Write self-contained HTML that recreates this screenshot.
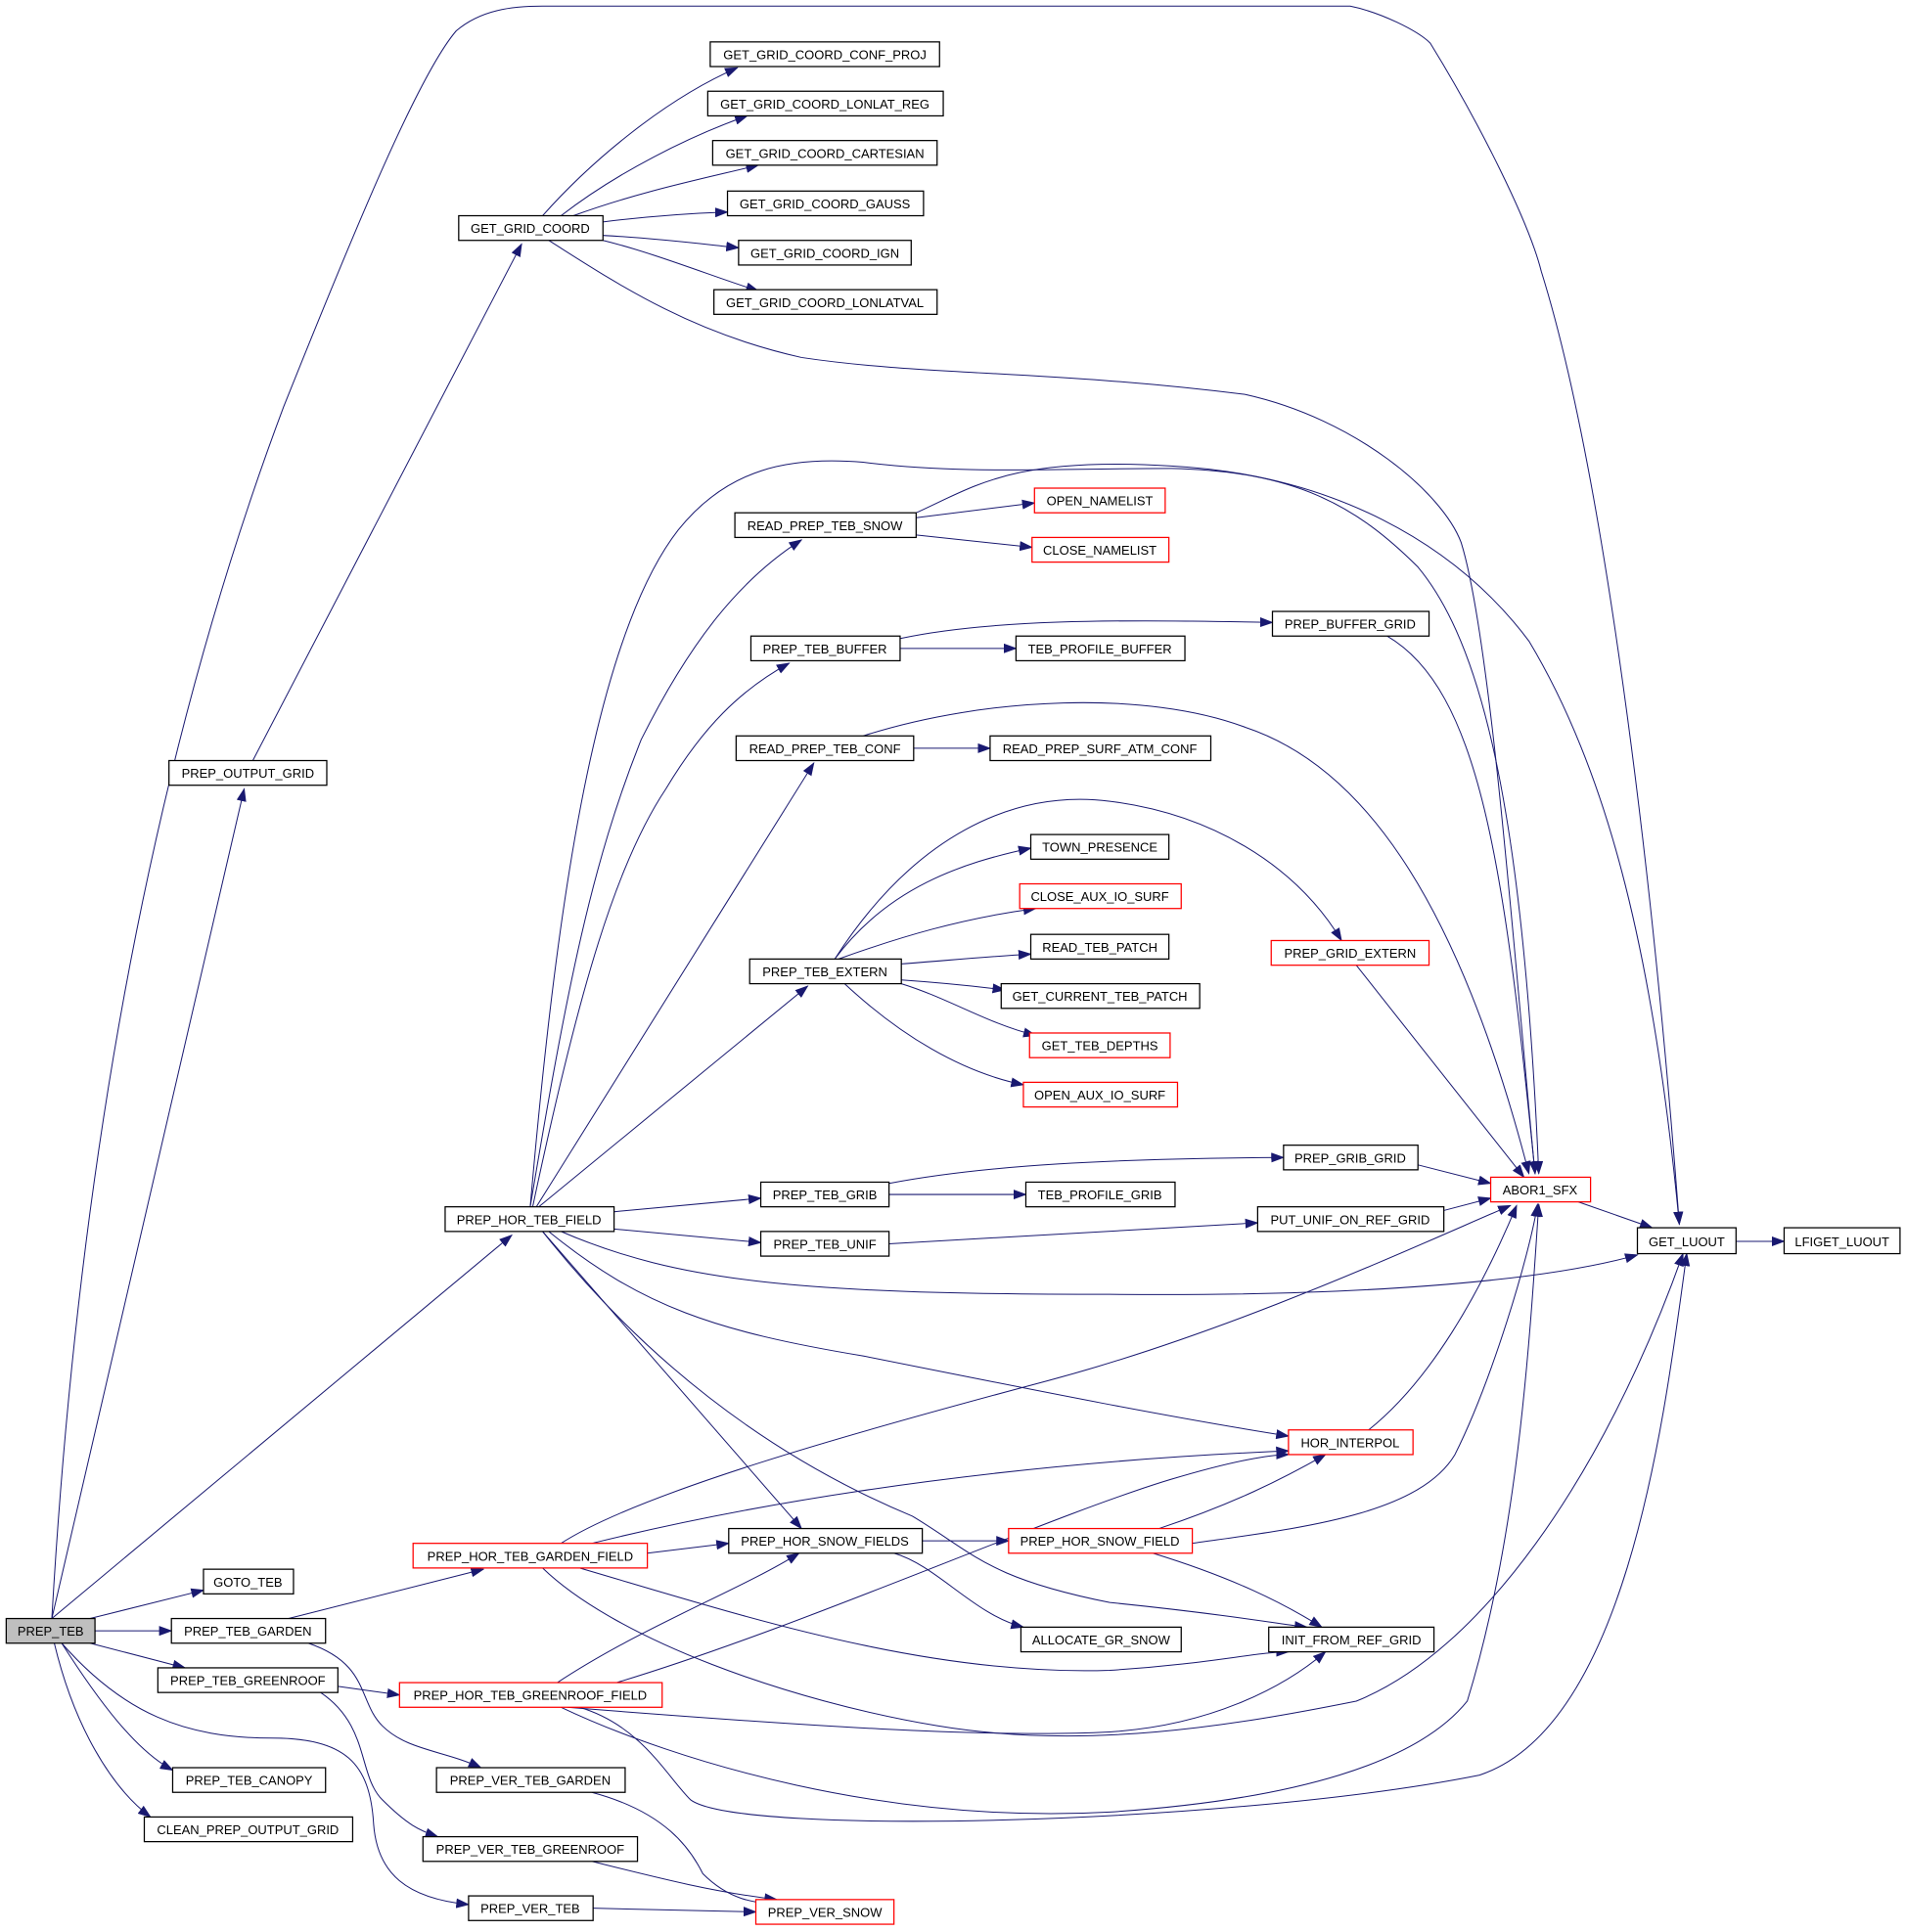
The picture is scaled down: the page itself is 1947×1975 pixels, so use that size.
<!DOCTYPE html>
<html><head><meta charset="utf-8"><style>
html,body{margin:0;padding:0;background:#fff;}
svg{display:block;}
text{font-family:"Liberation Sans",sans-serif;font-size:10.3px;fill:#000;}
</style></head><body>
<svg width="1947" height="1975" viewBox="0 0 1545 1567.3" xmlns="http://www.w3.org/2000/svg">
<defs><marker id="a" markerWidth="11" markerHeight="8" refX="10" refY="4" orient="auto" markerUnits="userSpaceOnUse"><path d="M0,0 L11,4 L0,8 z" fill="#191970"/></marker></defs>
<g fill="none" stroke="#191970" stroke-width="0.8" marker-end="url(#a)">
<path d="M42,1313 C60,1000 110,650 230,330 C290,180 340,60 370,25 C390,8 415,5 440,5 L1095,5 C1120,10 1150,25 1160,35 C1200,100 1240,180 1250,220 C1300,380 1340,700 1362,993"/>
<path d="M42,1313 L198,640"/>
<path d="M205,617 L423,198"/>
<path d="M440,175 C480,130 540,80 598,55"/>
<path d="M455,175 C500,140 560,110 606,94"/>
<path d="M465,175 C520,155 570,145 615,134"/>
<path d="M489,180 C530,175 560,173 590,172"/>
<path d="M489,191 C530,193 570,198 599,201"/>
<path d="M489,195 C530,205 580,225 615,236"/>
<path d="M445,195 C500,230 560,270 650,290 C750,305 850,300 1010,320 C1100,340 1170,400 1185,440 C1210,520 1230,800 1245,952"/>
<path d="M42,1313 L415,1002"/>
<path d="M430,979 C460,800 480,700 520,600 C560,520 600,470 650,438"/>
<path d="M430,979 C450,750 480,520 550,430 C590,380 640,370 700,375 C780,385 850,380 950,380 C1050,382 1100,410 1150,460 C1200,520 1235,650 1248,952"/>
<path d="M743,416 C790,395 820,370 950,378 C1080,385 1180,440 1240,520 C1300,620 1340,760 1362,993"/>
<path d="M432,979 C470,800 500,700 540,640 C570,590 600,560 640,538"/>
<path d="M435,979 L660,619"/>
<path d="M437,979 L655,800"/>
<path d="M498,983 L617,972"/>
<path d="M498,997 L617,1008"/>
<path d="M455,999 C550,1040 650,1050 900,1050 C1100,1052 1250,1040 1328,1018"/>
<path d="M445,999 C520,1060 580,1080 700,1100 C850,1130 950,1150 1045,1165"/>
<path d="M440,999 L650,1240"/>
<path d="M440,999 C520,1100 620,1180 740,1230 C790,1260 800,1280 900,1300 C1000,1310 1040,1318 1060,1320"/>
<path d="M743,420 L839,408"/>
<path d="M743,434 L837,444"/>
<path d="M730,526 L824,526"/>
<path d="M730,518 C800,503 900,502 1032,505"/>
<path d="M1125,516 C1200,560 1220,700 1245,952"/>
<path d="M741,607 L803,607"/>
<path d="M700,597 C800,565 930,560 1010,590 C1100,620 1180,720 1240,952"/>
<path d="M677,778 C720,720 780,700 836,688"/>
<path d="M680,778 C730,760 780,745 840,737"/>
<path d="M731,782 C770,779 800,776 836,774"/>
<path d="M731,795 C760,797 790,800 815,803"/>
<path d="M731,798 C770,810 800,830 840,840"/>
<path d="M685,798 C730,840 780,870 830,880"/>
<path d="M677,778 C740,680 820,640 900,650 C980,660 1050,700 1088,763"/>
<path d="M1100,783 L1236,955"/>
<path d="M721,969 L832,969"/>
<path d="M721,960 C800,945 900,940 1041,939"/>
<path d="M1150,945 L1209,960"/>
<path d="M1171,982 L1209,972"/>
<path d="M721,1009 L1020,992"/>
<path d="M1280,975 L1340,996"/>
<path d="M1408,1007 L1447,1007"/>
<path d="M1110,1160 C1160,1120 1200,1050 1230,978"/>
<path d="M234,1313 L392,1273"/>
<path d="M250,1333 C300,1350 290,1380 310,1400 C330,1420 360,1420 390,1434"/>
<path d="M274,1368 L324,1375"/>
<path d="M260,1373 C300,1400 290,1440 310,1460 C330,1480 340,1485 355,1490"/>
<path d="M73,1313 L165,1290"/>
<path d="M77,1323 L139,1323"/>
<path d="M73,1333 L150,1353"/>
<path d="M50,1333 C80,1380 110,1420 140,1436"/>
<path d="M44,1333 C60,1400 90,1450 122,1474"/>
<path d="M50,1333 C100,1390 150,1410 220,1410 C280,1410 300,1430 303,1480 C306,1520 330,1540 380,1545"/>
<path d="M455,1252 C520,1210 700,1160 850,1120 C1000,1080 1150,1010 1225,978"/>
<path d="M480,1252 C650,1210 850,1185 1045,1177"/>
<path d="M525,1260 L591,1252"/>
<path d="M470,1272 C600,1310 750,1360 900,1355 C980,1350 1020,1340 1045,1340"/>
<path d="M440,1272 C500,1330 640,1380 760,1400 C880,1420 1000,1400 1100,1380 C1200,1340 1300,1200 1365,1017"/>
<path d="M748,1250 L818,1250"/>
<path d="M725,1260 C760,1270 790,1310 830,1320"/>
<path d="M940,1240 C1000,1220 1040,1200 1075,1180"/>
<path d="M967,1252 C1050,1240 1150,1230 1180,1180 C1210,1120 1240,1020 1247,977"/>
<path d="M935,1260 C1000,1280 1040,1300 1072,1320"/>
<path d="M452,1365 C520,1320 600,1290 648,1260"/>
<path d="M500,1365 C650,1320 850,1230 950,1200 C1000,1185 1030,1180 1045,1180"/>
<path d="M460,1385 C650,1400 800,1410 900,1405 C980,1400 1040,1370 1075,1340"/>
<path d="M455,1385 C550,1430 720,1480 900,1470 C1050,1460 1150,1430 1190,1380 C1230,1250 1240,1100 1248,977"/>
<path d="M470,1385 C520,1400 540,1440 560,1460 C600,1490 1000,1480 1200,1440 C1320,1400 1350,1150 1368,1017"/>
<path d="M480,1454 C540,1470 560,1500 570,1520 C590,1540 610,1545 640,1545"/>
<path d="M480,1510 C540,1525 580,1535 630,1541"/>
<path d="M481,1548 L613,1551"/>
</g>
<g stroke-width="1">
<rect x="5" y="1313" width="72" height="20" fill="#bfbfbf" stroke="#000"/><text x="41" y="1327" text-anchor="middle">PREP_TEB</text>
<g fill="#fff" stroke="#000">
<rect x="165" y="1273" width="73" height="20"/><rect x="139" y="1313" width="125" height="20"/><rect x="128" y="1353" width="146" height="20"/><rect x="140" y="1434" width="124" height="20"/><rect x="117" y="1474" width="169" height="20"/><rect x="137" y="617" width="128" height="20"/><rect x="372" y="175" width="117" height="20"/><rect x="576" y="34" width="186" height="20"/><rect x="574" y="74" width="191" height="20"/><rect x="578" y="114" width="182" height="20"/><rect x="590" y="155" width="159" height="20"/><rect x="599" y="195" width="140" height="20"/><rect x="579" y="235" width="181" height="20"/><rect x="596" y="416" width="147" height="20"/><rect x="609" y="516" width="121" height="20"/><rect x="824" y="516" width="137" height="20"/><rect x="1032" y="496" width="127" height="20"/><rect x="597" y="597" width="144" height="20"/><rect x="803" y="597" width="179" height="20"/><rect x="836" y="677" width="112" height="20"/><rect x="836" y="758" width="112" height="20"/><rect x="608" y="778" width="123" height="20"/><rect x="812" y="798" width="161" height="20"/><rect x="1041" y="929" width="109" height="20"/><rect x="617" y="959" width="104" height="20"/><rect x="832" y="959" width="121" height="20"/><rect x="361" y="979" width="137" height="20"/><rect x="617" y="999" width="104" height="20"/><rect x="1020" y="979" width="151" height="20"/><rect x="1328" y="996" width="80" height="21"/><rect x="1447" y="996" width="94" height="21"/><rect x="591" y="1240" width="157" height="20"/><rect x="828" y="1320" width="130" height="20"/><rect x="1029" y="1320" width="134" height="20"/><rect x="354" y="1434" width="153" height="20"/><rect x="343" y="1490" width="174" height="20"/><rect x="380" y="1538" width="101" height="20"/>
</g>
<g fill="#fff" stroke="#ff0000">
<rect x="839" y="396" width="106" height="20"/><rect x="837" y="436" width="111" height="20"/><rect x="827" y="717" width="131" height="20"/><rect x="835" y="838" width="114" height="20"/><rect x="830" y="878" width="125" height="20"/><rect x="1031" y="763" width="128" height="20"/><rect x="1209" y="955" width="81" height="20"/><rect x="1045" y="1160" width="101" height="20"/><rect x="335" y="1252" width="190" height="20"/><rect x="818" y="1240" width="149" height="20"/><rect x="324" y="1365" width="213" height="20"/><rect x="613" y="1541" width="112" height="20"/>
</g>
</g>
<g text-anchor="middle">
<text x="201" y="1287">GOTO_TEB</text><text x="201" y="1327">PREP_TEB_GARDEN</text><text x="201" y="1367">PREP_TEB_GREENROOF</text><text x="202" y="1448">PREP_TEB_CANOPY</text><text x="201" y="1488">CLEAN_PREP_OUTPUT_GRID</text><text x="201" y="631">PREP_OUTPUT_GRID</text><text x="430" y="189">GET_GRID_COORD</text><text x="669" y="48">GET_GRID_COORD_CONF_PROJ</text><text x="669" y="88">GET_GRID_COORD_LONLAT_REG</text><text x="669" y="128">GET_GRID_COORD_CARTESIAN</text><text x="669" y="169">GET_GRID_COORD_GAUSS</text><text x="669" y="209">GET_GRID_COORD_IGN</text><text x="669" y="249">GET_GRID_COORD_LONLATVAL</text><text x="669" y="430">READ_PREP_TEB_SNOW</text><text x="892" y="410">OPEN_NAMELIST</text><text x="892" y="450">CLOSE_NAMELIST</text><text x="669" y="530">PREP_TEB_BUFFER</text><text x="892" y="530">TEB_PROFILE_BUFFER</text><text x="1095" y="510">PREP_BUFFER_GRID</text><text x="669" y="611">READ_PREP_TEB_CONF</text><text x="892" y="611">READ_PREP_SURF_ATM_CONF</text><text x="892" y="691">TOWN_PRESENCE</text><text x="892" y="731">CLOSE_AUX_IO_SURF</text><text x="892" y="772">READ_TEB_PATCH</text><text x="669" y="792">PREP_TEB_EXTERN</text><text x="892" y="812">GET_CURRENT_TEB_PATCH</text><text x="892" y="852">GET_TEB_DEPTHS</text><text x="892" y="892">OPEN_AUX_IO_SURF</text><text x="1095" y="777">PREP_GRID_EXTERN</text><text x="1095" y="943">PREP_GRIB_GRID</text><text x="669" y="973">PREP_TEB_GRIB</text><text x="892" y="973">TEB_PROFILE_GRIB</text><text x="1249" y="969">ABOR1_SFX</text><text x="429" y="993">PREP_HOR_TEB_FIELD</text><text x="669" y="1013">PREP_TEB_UNIF</text><text x="1095" y="993">PUT_UNIF_ON_REF_GRID</text><text x="1368" y="1011">GET_LUOUT</text><text x="1494" y="1011">LFIGET_LUOUT</text><text x="1095" y="1174">HOR_INTERPOL</text><text x="430" y="1266">PREP_HOR_TEB_GARDEN_FIELD</text><text x="669" y="1254">PREP_HOR_SNOW_FIELDS</text><text x="892" y="1254">PREP_HOR_SNOW_FIELD</text><text x="893" y="1334">ALLOCATE_GR_SNOW</text><text x="1096" y="1334">INIT_FROM_REF_GRID</text><text x="430" y="1379">PREP_HOR_TEB_GREENROOF_FIELD</text><text x="430" y="1448">PREP_VER_TEB_GARDEN</text><text x="430" y="1504">PREP_VER_TEB_GREENROOF</text><text x="430" y="1552">PREP_VER_TEB</text><text x="669" y="1555">PREP_VER_SNOW</text>
</g>
</svg>
</body></html>
